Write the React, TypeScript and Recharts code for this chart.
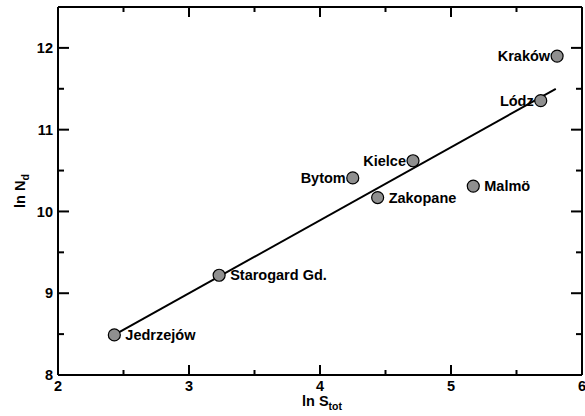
import React from 'react';
import { ScatterChart, Scatter, XAxis, YAxis, Label } from 'recharts';

// city data: ln S_tot vs ln N_d
const cities = ['Jedrzejów', 'Starogard Gd.', 'Bytom', 'Zakopane', 'Kielce', 'Malmö', 'Lódz', 'Kraków'];
const lnStot = [2.43, 3.23, 4.25, 4.44, 4.71, 5.17, 5.685, 5.81];
const lnNd = [8.49, 9.22, 10.41, 10.17, 10.62, 10.31, 11.355, 11.9];
const leftLabeled = ['Bytom', 'Kielce', 'Lódz', 'Kraków'];

// fitted line end points
const fitX = [2.43, 5.8];
const fitY = [8.49, 11.5];

const xTicks = [2, 2.5, 3, 3.5, 4, 4.5, 5, 5.5, 6];
const yTicks = [8, 8.5, 9, 9.5, 10, 10.5, 11, 11.5, 12];

const font = "'Liberation Sans', Arial, Helvetica, sans-serif";

const points = cities.map((name, i) => ({ name, x: lnStot[i], y: lnNd[i] }));
const fit = fitX.map((x, i) => ({ x, y: fitY[i] }));

const isMajor = (v: number) => Number.isInteger(v);
const tickLen = (v: number) => (isMajor(v) ? 10 : 5);
const tickStroke = { stroke: '#000', strokeWidth: 2 };

const BottomTick = (props: any) => {
  const { x, y, payload } = props;
  const v = payload.value;
  return (
    <g>
      <line x1={x} y1={y} x2={x} y2={y - tickLen(v)} {...tickStroke} />
      {isMajor(v) && (
        <text x={x} y={y + 16} textAnchor="middle" fontFamily={font} fontWeight="bold" fontSize={14.5} fill="#000">
          {v}
        </text>
      )}
    </g>
  );
};

const TopTick = (props: any) => {
  const { x, y, payload } = props;
  return <line x1={x} y1={y} x2={x} y2={y + tickLen(payload.value)} {...tickStroke} />;
};

const LeftTick = (props: any) => {
  const { x, y, payload } = props;
  const v = payload.value;
  return (
    <g>
      <line x1={x} y1={y} x2={x + tickLen(v) + 1} y2={y} {...tickStroke} />
      {isMajor(v) && (
        <text x={x - 5} y={y} dy="0.36em" textAnchor="end" fontFamily={font} fontWeight="bold" fontSize={14.5} fill="#000">
          {v}
        </text>
      )}
    </g>
  );
};

const RightTick = (props: any) => {
  const { x, y, payload } = props;
  return <line x1={x} y1={y} x2={x - tickLen(payload.value) - 1} y2={y} {...tickStroke} />;
};

const CityDot = (props: any) => {
  const { cx, cy, payload } = props;
  const left = leftLabeled.includes(payload.name);
  return (
    <g>
      <circle cx={cx} cy={cy} r={6} fill="#8f8f8f" stroke="#000" strokeWidth={1.2} />
      <text
        x={left ? cx - 7 : cx + 11}
        y={cy}
        dy="0.35em"
        textAnchor={left ? 'end' : 'start'}
        fontFamily={font}
        fontWeight="bold"
        fontSize={14.5}
        fill="#000"
      >
        {payload.name}
      </text>
    </g>
  );
};

const XTitle = (props: any) => {
  const vb = props.viewBox;
  return (
    <text x={vb.x + vb.width / 2 + 2} y={vb.y + 31} textAnchor="middle" fontFamily={font} fontWeight="bold" fontSize={14.5} fill="#000">
      ln S
      <tspan fontSize={10.5} dy={4}>tot</tspan>
    </text>
  );
};

const YTitle = (props: any) => {
  const vb = props.viewBox;
  const cx = 25;
  const cy = vb.y + vb.height / 2;
  return (
    <text
      x={cx}
      y={cy}
      transform={`rotate(-90, ${cx}, ${cy})`}
      textAnchor="middle"
      fontFamily={font}
      fontWeight="bold"
      fontSize={14.5}
      fill="#000"
    >
      ln N
      <tspan fontSize={10.5} dy={4}>d</tspan>
    </text>
  );
};

const axisLine = { stroke: '#000', strokeWidth: 2 };

export default function App() {
  return (
    <div style={{ position: 'absolute', left: 0, top: 0, background: '#fff' }}>
      <ScatterChart width={585} height={416} margin={{ top: 6, right: 2, bottom: 0, left: 0 }}>
        <XAxis
          type="number"
          dataKey="x"
          domain={[2, 6]}
          ticks={xTicks}
          interval={0}
          height={41}
          tickSize={0}
          tickMargin={0}
          tickLine={false}
          axisLine={axisLine}
          tick={<BottomTick />}
        >
          <Label content={<XTitle />} />
        </XAxis>
        <XAxis
          xAxisId="top"
          orientation="top"
          type="number"
          dataKey="x"
          domain={[2, 6]}
          ticks={xTicks}
          interval={0}
          height={1}
          tickSize={0}
          tickMargin={0}
          tickLine={false}
          axisLine={axisLine}
          tick={<TopTick />}
        />
        <YAxis
          type="number"
          dataKey="y"
          domain={[8, 12.5]}
          ticks={yTicks}
          interval={0}
          width={58}
          tickSize={0}
          tickMargin={0}
          tickLine={false}
          axisLine={axisLine}
          tick={<LeftTick />}
        >
          <Label content={<YTitle />} />
        </YAxis>
        <YAxis
          yAxisId="right"
          orientation="right"
          type="number"
          dataKey="y"
          domain={[8, 12.5]}
          ticks={yTicks}
          interval={0}
          width={1}
          tickSize={0}
          tickMargin={0}
          tickLine={false}
          axisLine={axisLine}
          tick={<RightTick />}
        />
        <Scatter
          xAxisId="top"
          yAxisId="right"
          data={fit}
          shape={() => <g />}
          isAnimationActive={false}
        />
        <Scatter
          data={fit}
          line={{ stroke: '#000', strokeWidth: 2 }}
          shape={() => <g />}
          isAnimationActive={false}
        />
        <Scatter data={points} shape={<CityDot />} isAnimationActive={false} />
      </ScatterChart>
    </div>
  );
}
